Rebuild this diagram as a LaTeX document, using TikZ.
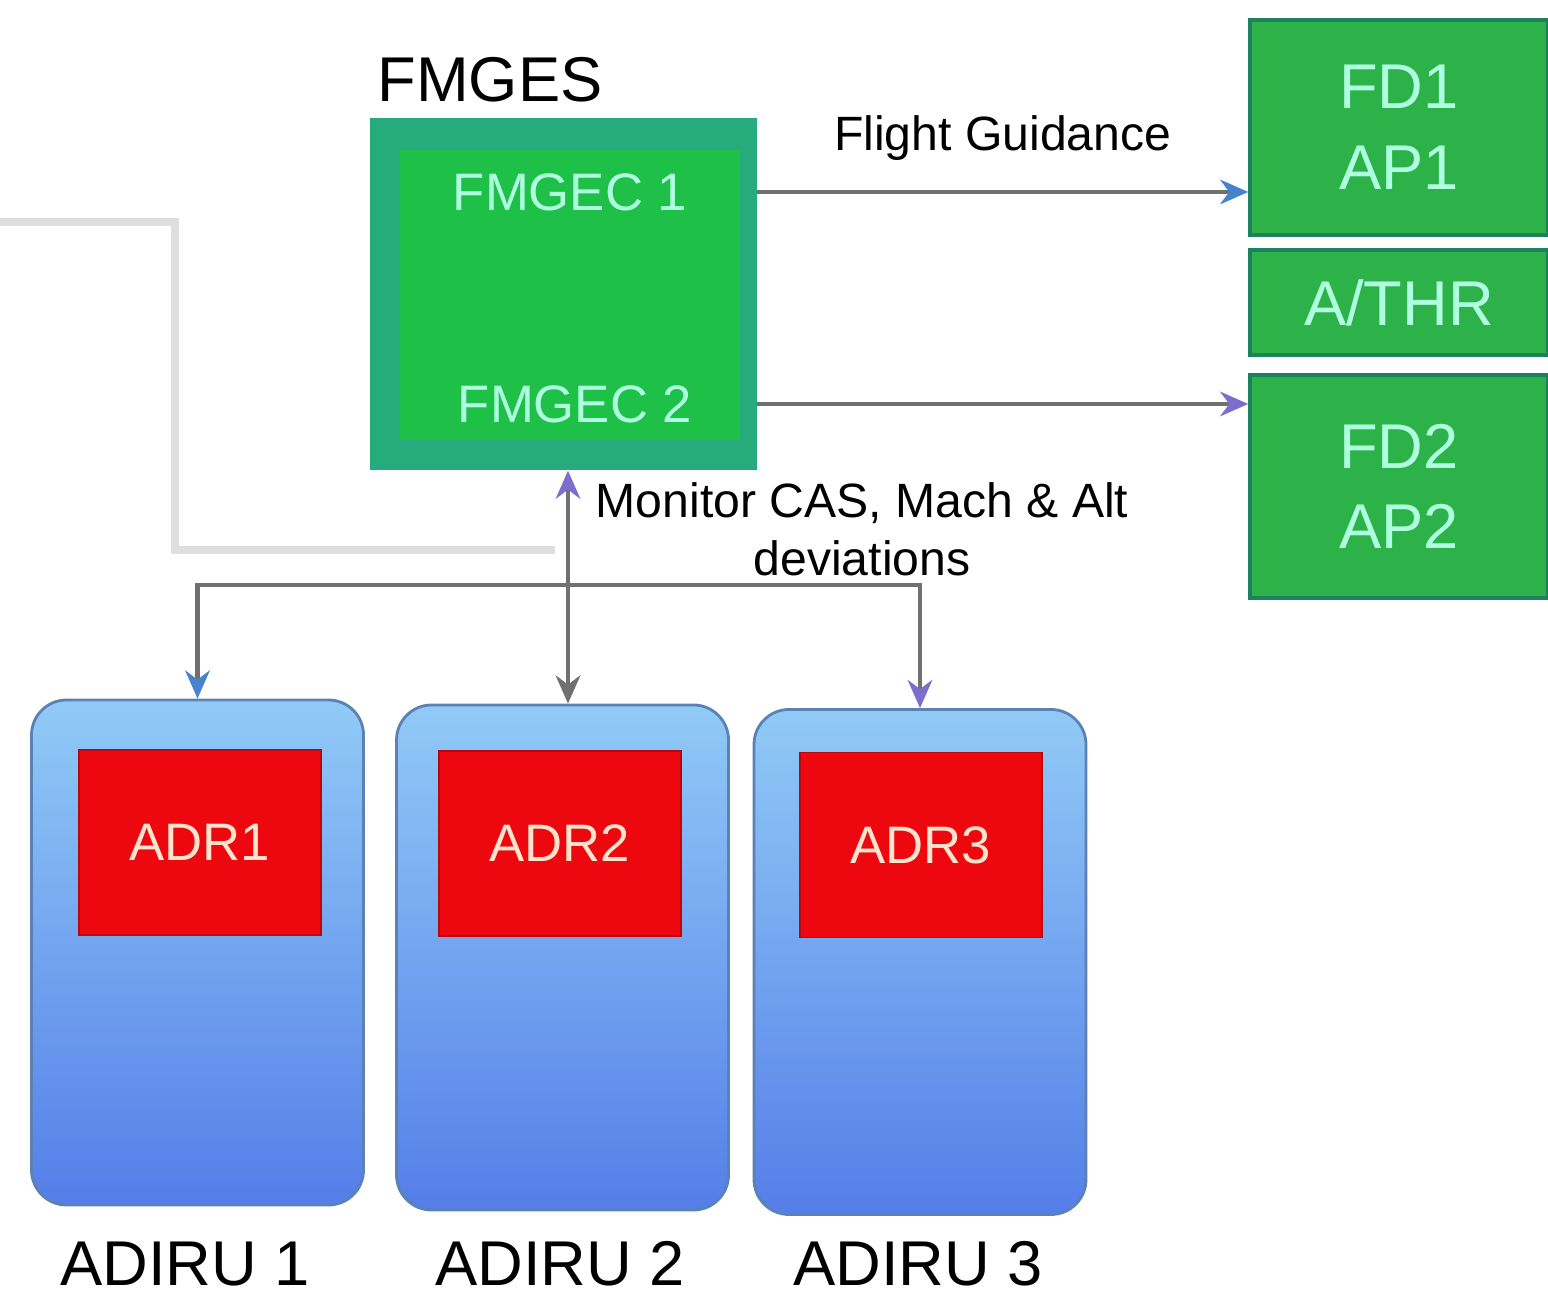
\documentclass[tikz,border=0pt]{standalone}
\usepackage{fontspec}
\setmainfont{Liberation Sans}
\usetikzlibrary{arrows.meta}

\definecolor{fmgesgreen}{RGB}{38,172,124}
\definecolor{coregreen}{RGB}{30,192,72}
\definecolor{unitgreen}{RGB}{44,178,72}
\definecolor{mint}{RGB}{175,255,225}
\definecolor{adrred}{RGB}{236,8,14}
\definecolor{adrtext}{RGB}{255,228,205}
\definecolor{linegray}{RGB}{112,112,112}
\definecolor{tipblue}{RGB}{70,130,205}
\definecolor{tippurple}{RGB}{125,110,205}
\definecolor{adiruedge}{RGB}{90,130,180}

\begin{document}
\begin{tikzpicture}[
	fmges/.style={rectangle, fill=fmgesgreen, minimum width=3.87cm, minimum height=3.52cm},
	core/.style={rectangle, fill=coregreen, minimum width=3.4cm, minimum height=2.9cm},
	fmgec/.style={text=mint, font=\fontsize{15}{18}\selectfont},
	unit/.style={rectangle, fill=unitgreen, draw=fmgesgreen!75!black, line width=1pt, minimum width=2.98cm, text=mint, align=center, font=\fontsize{18}{23}\selectfont},
	adiru/.style={rectangle, rounded corners=0.35cm, draw=adiruedge, line width=0.8pt, top color={rgb,255:red,145;green,202;blue,246}, middle color={rgb,255:red,100;green,150;blue,200}, bottom color={rgb,255:red,84;green,126;blue,232}, minimum width=3.32cm, minimum height=5.05cm},
	adr/.style={rectangle, fill=adrred, draw=adrred!80!black, minimum width=2.42cm, minimum height=1.85cm, text=adrtext, font=\fontsize{15}{18}\selectfont},
	caption/.style={font=\fontsize{18}{22}\selectfont},
	lbl/.style={align=center, font=\fontsize{13.7}{16.5}\selectfont},
	wire/.style={draw=linegray, line width=1.2pt},
	faint/.style={draw=gray!25, line width=2.5pt},
]
	\useasboundingbox (0, 0) rectangle (15.48, 12.94);

	% FMGES with its two computers
	\node (title) at (4.90, 12.14) [caption] {FMGES};
	\node (fmges) at (5.63, 10.0) [fmges] {};
	\node (core) at (5.70, 9.99) [core] {};
	\node (fmgec1) at (5.70, 11.02) [fmgec] {FMGEC 1};
	\node (fmgec2) at (5.75, 8.90) [fmgec] {FMGEC 2};

	\node (fd1) at (13.99, 11.665) [unit, minimum height=2.15cm] {FD1\\AP1};
	\node (athr) at (13.99, 9.915) [unit, minimum height=1.05cm] {A/THR};
	\node (fd2) at (13.99, 8.075) [unit, minimum height=2.23cm] {FD2\\AP2};

	% ADIRUs
	\node (adiru1) at (1.975, 3.415) [adiru] {};
	\node (adiru2) at (5.625, 3.365) [adiru] {};
	\node (adiru3) at (9.20, 3.32) [adiru] {};
	\node (adr1) at (2.0, 4.515) [adr] {ADR1};
	\node (adr2) at (5.60, 4.505) [adr] {ADR2};
	\node (adr3) at (9.21, 4.49) [adr] {ADR3};
	\node (lab1) at (1.85, 0.30) [caption] {ADIRU 1};
	\node (lab2) at (5.60, 0.30) [caption] {ADIRU 2};
	\node (lab3) at (9.18, 0.30) [caption] {ADIRU 3};

	\node (monitor) at (8.62, 7.65) [lbl] {Monitor CAS, Mach \& Alt\\deviations};

	\coordinate (feed) at (0, 10.72);
	\coordinate (bus) at (5.68, 7.09);
	\draw[faint] (feed) -- (1.75, 10.72) -- (1.75, 7.44) -- (5.55, 7.44);

	\path[wire]
		(fmgec1 -| fmges.east) edge[-{Stealth[length=8pt, width=7pt, color=tipblue]}] node[lbl, above=5pt] {Flight Guidance} (fmgec1 -| fd1.west)
		(fmgec2 -| fmges.east) edge[-{Stealth[length=8pt, width=7pt, color=tippurple]}] (fmgec2 -| fd2.west)
		(fmges.south -| bus) edge[{Stealth[length=8pt, width=7pt, color=tippurple]}-{Stealth[length=8pt, width=7pt, color=linegray]}] (adiru2.north -| bus)
		(bus) edge[to path={-| (\tikztotarget)}, -{Stealth[length=8pt, width=7pt, color=tipblue]}] (adiru1.north)
		(bus) edge[to path={-| (\tikztotarget)}, -{Stealth[length=8pt, width=7pt, color=tippurple]}] (adiru3.north);
\end{tikzpicture}
\end{document}
